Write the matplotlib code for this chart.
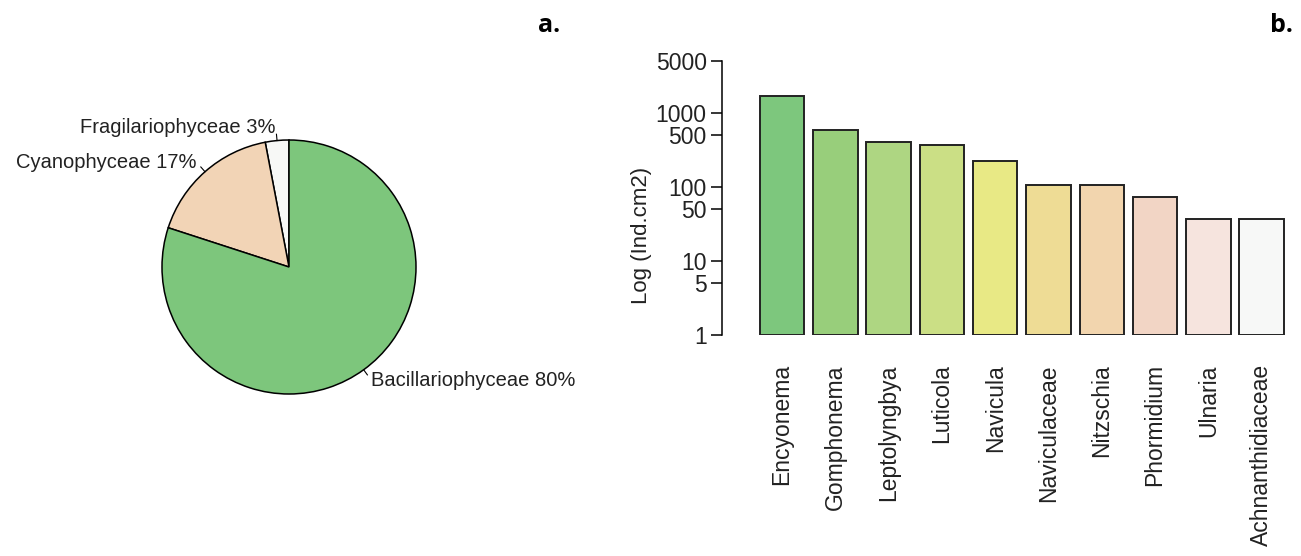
import numpy as np
import matplotlib
matplotlib.use("Agg")
from matplotlib import pyplot as plt

plt.rcParams['font.family'] = ['Liberation Sans', 'DejaVu Sans']

# class shares for the pie (drawn counter-clockwise from 12 o'clock)
classes = ["Fragilariophyceae", "Cyanophyceae", "Bacillariophyceae"]
shares = [3, 17, 80]
class_colors = ["#F7F8F6", "#F2D4B6", "#7DC67C"]

# genus densities (Ind.cm2), log scale
genera = ["Encyonema", "Gomphonema", "Leptolyngbya", "Luticola", "Navicula",
          "Naviculaceae", "Nitzschia", "Phormidium", "Ulnaria",
          "Achnanthidiaceae"]
density = [1680, 585, 400, 367, 220, 105, 105, 74, 37, 37]
genus_colors = ["#7DC77D", "#98CE7B", "#AED682", "#CBDF85", "#E8E985",
                "#EEDC95", "#F2D5AE", "#F2D5C5", "#F6E4DE", "#F7F8F7"]
yticks = [1, 5, 10, 50, 100, 500, 1000, 5000]

W, H = 1301, 556
fig = plt.figure(figsize=(W / 100, H / 100), dpi=100)


# pie chart
ax1 = fig.add_axes([162 / W, 1 - 394 / H, 254 / W, 254 / H])
wedges, _ = ax1.pie(shares, colors=class_colors, startangle=90,
                    counterclock=True, radius=1,
                    wedgeprops=dict(edgecolor="black", linewidth=1.1))
ax1.set_xlim(-1, 1)
ax1.set_ylim(-1, 1)
ax1.set_aspect("equal")
ax1.axis("off")

for w, name, pct in zip(wedges, classes, shares):
    mid = np.deg2rad((w.theta1 + w.theta2) / 2)
    cx, cy = np.cos(mid), np.sin(mid)
    ax1.plot([cx, 1.05 * cx], [cy, 1.05 * cy], color="black", lw=0.8,
             clip_on=False)
    ha = "left" if cx > 0 else "right"
    ax1.text(1.1 * cx, 1.1 * cy, name + " " + str(pct) + "%", ha=ha,
             va="center", fontsize=14.5, color="#222222", clip_on=False)


# bar chart
ax2 = fig.add_axes([722 / W, 1 - 335 / H, 568 / W, 274 / H])
x = np.arange(len(genera)) * 1.2 + 0.7
heights = [d - 1 for d in density]
ax2.bar(x, heights, width=1, bottom=1, color=genus_colors,
        edgecolor="#222222", linewidth=1.4)
ax2.set_yscale("log")
ax2.set_ylim(1, 5000)
ax2.set_xlim(-0.653, 12.14)

ax2.set_yticks(yticks)
ax2.set_yticklabels([str(t) for t in yticks])
ax2.yaxis.set_minor_locator(matplotlib.ticker.NullLocator())
ax2.tick_params(axis="y", length=8, width=1.1, pad=3, labelsize=16.5,
                labelcolor="#222222")

ax2.set_xticks(x)
ax2.set_xticklabels(genera, rotation=90, va="top", ha="center")
ax2.tick_params(axis="x", length=0, pad=21, labelsize=16.5,
                labelcolor="#222222")

for s in ["top", "right", "bottom"]:
    ax2.spines[s].set_visible(False)
ax2.spines["left"].set_linewidth(1.1)

ax2.set_ylabel("Log (Ind.cm2)", fontsize=16, color="#222222")
ax2.yaxis.set_label_coords(-0.124, 0.365)

# panel letters
fig.text(560 / W, 1 - 32 / H, "a.", ha="right", va="baseline",
         fontsize=18, fontweight="bold", family="Open Sans")
fig.text(1293 / W, 1 - 32 / H, "b.", ha="right", va="baseline",
         fontsize=18, fontweight="bold", family="Open Sans")

plt.savefig("out.png", dpi=100)
